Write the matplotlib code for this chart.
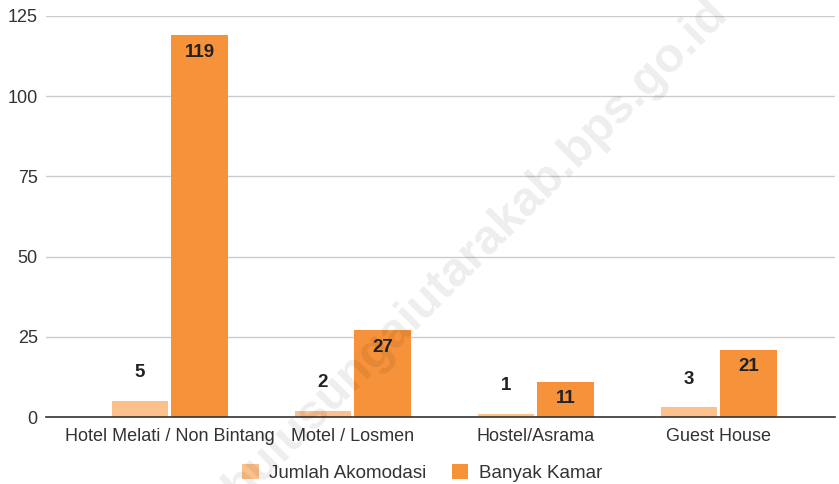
import numpy as np
import matplotlib.pyplot as plt

plt.rcParams['font.family'] = ['Liberation Sans', 'DejaVu Sans']

categories = ['Hotel Melati / Non Bintang', 'Motel / Losmen', 'Hostel/Asrama', 'Guest House']
jumlah_akomodasi = [5, 2, 1, 3]
banyak_kamar = [119, 27, 11, 21]

light = '#FCC08C'
orange = '#F5923A'

fig = plt.figure(figsize=(8.39, 4.84), dpi=100)
ax = fig.add_axes([46 / 839, 1 - 417 / 484, 789 / 839, 401 / 484])

x = np.arange(len(categories))
w = 0.31
b1 = ax.bar(x - w / 2 - 0.008, jumlah_akomodasi, w, color=light, label='Jumlah Akomodasi', zorder=3)
b2 = ax.bar(x + w / 2 + 0.008, banyak_kamar, w, color=orange, label='Banyak Kamar', zorder=3)

# value labels: light bars above, orange bars inside at top
for rect, v in zip(b1, jumlah_akomodasi):
    ax.annotate(str(v), (rect.get_x() + rect.get_width() / 2, v), xytext=(0, 28),
                textcoords='offset pixels', ha='center', va='center',
                fontsize=13.5, fontweight='bold', color='#222222', zorder=4)
for rect, v in zip(b2, banyak_kamar):
    ax.annotate(str(v), (rect.get_x() + rect.get_width() / 2, v), xytext=(0, -17),
                textcoords='offset pixels', ha='center', va='center',
                fontsize=13.5, fontweight='bold', color='#222222', zorder=4)

ax.set_xlim(-0.677, 3.635)
ax.set_ylim(0, 125)
ax.set_yticks([0, 25, 50, 75, 100, 125])
ax.set_xticks(x)
ax.set_xticklabels(categories)
ax.tick_params(axis='both', length=0, labelsize=13, labelcolor='#333333')
ax.tick_params(axis='y', pad=6)
ax.tick_params(axis='x', pad=8)
ax.grid(axis='y', color='#CCCCCC', linewidth=1, zorder=0)
for s in ['top', 'right', 'left']:
    ax.spines[s].set_visible(False)
ax.spines['bottom'].set_color('#333333')
ax.spines['bottom'].set_linewidth(1.2)
ax.spines['bottom'].set_zorder(5)

fig.legend(handles=[b1, b2], loc='center', bbox_to_anchor=(0.503, 1 - 473 / 484), ncol=2,
           frameon=False, fontsize=13.5, handlelength=0.9, handleheight=0.9,
           handletextpad=0.55, columnspacing=1.35, labelcolor='#333333')

# watermark
fig.text(0.567, 0.483, 'hulusungaiutarakab.bps.go.id', rotation=45, rotation_mode='anchor',
         fontsize=35, fontweight='bold', color='#000000', alpha=0.07,
         ha='center', va='center', zorder=10)

fig.savefig('out.png', dpi=100)
